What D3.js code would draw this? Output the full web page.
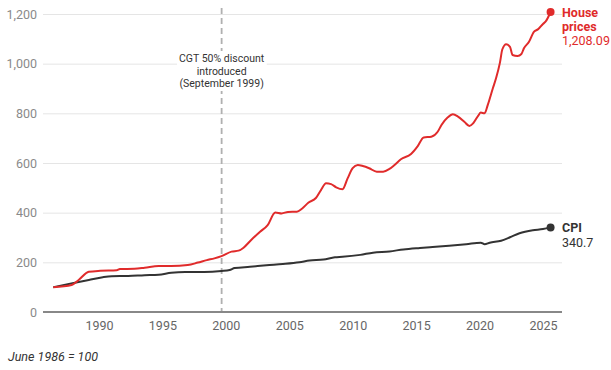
<!DOCTYPE html>
<html>
<head>
<meta charset="utf-8">
<script src="https://cdn.jsdelivr.net/npm/d3@7"></script>
<style>
  body { margin: 0; background: #fff; font-family: Roboto, "Noto Sans", sans-serif; }
  svg text { font-family: Roboto, "Noto Sans", sans-serif; }
</style>
</head>
<body>
<svg id="chart" width="611" height="370"></svg>
<script>
// index, June 1986 = 100 (decimal years)
var houseYears = [1986.4, 1987.85, 1988.4, 1989.2, 1990.1, 1991.4, 1991.65, 1992.8, 1993.6, 1994.7, 1995.7,
	1997.0, 1997.8, 1998.5, 1999.1, 1999.66, 2000.45, 2001.0, 2001.4, 2002.0, 2002.7, 2003.3, 2003.9,
	2004.4, 2004.9, 2005.6, 2006.0, 2006.5, 2007.1, 2007.5, 2007.9, 2008.3, 2008.7, 2009.2, 2009.6,
	2010.0, 2010.4, 2010.8, 2011.3, 2011.9, 2012.4, 2012.9, 2013.3, 2013.8, 2014.6, 2015.1, 2015.6,
	2016.2, 2016.7, 2017.0, 2017.5, 2017.9, 2018.3, 2018.8, 2019.2, 2019.5, 2019.9, 2020.1, 2020.4,
	2020.65, 2021.05, 2021.3, 2021.6, 2021.8, 2022.1, 2022.4, 2022.6, 2023.0, 2023.3, 2023.5, 2023.9,
	2024.3, 2024.6, 2025.0, 2025.2, 2025.6];
var housePrices = [100, 109, 129, 162, 166, 168, 173, 174, 178, 185, 185,
	189, 199, 209, 216, 225, 243, 247, 259, 290, 323, 350, 401,
	397, 403, 404, 416, 440, 459, 491, 518, 515, 502, 494, 538,
	579, 592, 588, 579, 565, 565, 576, 592, 615, 636, 666, 703,
	706, 726, 753, 784, 796, 787, 766, 749, 760, 791, 803, 800,
	834, 901, 941, 1002, 1058, 1078, 1068, 1035, 1031, 1039, 1062, 1088,
	1129, 1138, 1160, 1169, 1208.09];

var cpiYears = [1986.4, 1988.1, 1989.2, 1990.3, 1991.0, 1992.3, 1993.6, 1994.7, 1995.7, 1996.8, 1998.3,
	1999.66, 2000.3, 2000.7, 2001.9, 2003.2, 2004.5, 2005.8, 2006.6, 2007.7, 2008.6, 2009.2, 2010.6,
	2011.6, 2012.9, 2014.0, 2015.3, 2016.3, 2017.6, 2018.95, 2020.1, 2020.4, 2020.8, 2021.7, 2022.4,
	2023.15, 2024.2, 2025.0, 2025.6];
var cpiValues = [100, 118, 129, 140, 144, 145, 148, 150, 158, 161, 161,
	165, 169, 177, 182, 188, 193, 200, 207, 211, 220, 222, 230,
	239, 244, 252, 258, 262, 267, 273, 279, 273, 279, 287, 301,
	317, 329, 334, 340.7];

var yTicks = [0, 200, 400, 600, 800, 1000, 1200];
var xTicks = [1990, 1995, 2000, 2005, 2010, 2015, 2020, 2025];
var cgtYear = 1999.67;
var cgtLabel = ["CGT 50% discount", "introduced", "(September 1999)"];

var red = "#e02b2b";
var dark = "#333333";

var svg = d3.select("#chart");

var x = d3.scaleLinear().domain([1985.59, 2026.5]).range([43, 562]);
var y = d3.scaleLinear().domain([0, 1200]).range([312, 14]);

// gridlines + y labels
var yAxis = d3.axisLeft(y)
	.tickValues(yTicks)
	.tickSize(-(562 - 43))
	.tickPadding(6)
	.tickFormat(d3.format(","));
var gy = svg.append("g")
	.attr("transform", "translate(43,0)")
	.call(yAxis);
gy.select(".domain").remove();
gy.selectAll(".tick line").attr("stroke", "#e5e5e5").attr("stroke-width", 1);
gy.selectAll(".tick text")
	.attr("fill", "#8a8a8a")
	.attr("font-size", 12.5)
	.attr("x", -6);

// x axis
var xAxis = d3.axisBottom(x)
	.tickValues(xTicks)
	.tickSize(0)
	.tickPadding(9)
	.tickFormat(d3.format("d"));
var gx = svg.append("g")
	.attr("transform", "translate(0,312)")
	.call(xAxis);
gx.select(".domain").remove();
gx.selectAll(".tick text")
	.attr("fill", "#666")
	.attr("font-size", 12.5);

svg.append("line")
	.attr("x1", 43).attr("x2", 562)
	.attr("y1", 312).attr("y2", 312)
	.attr("stroke", "#888")
	.attr("stroke-width", 2);

// CGT marker
svg.append("line")
	.attr("x1", x(cgtYear)).attr("x2", x(cgtYear))
	.attr("y1", 8).attr("y2", 311)
	.attr("stroke", "#b0b0b0")
	.attr("stroke-width", 1.8)
	.attr("stroke-dasharray", "6,4");

var ann = svg.append("g");
var annText = ann.append("text")
	.attr("text-anchor", "middle")
	.attr("font-size", 10.5)
	.attr("fill", "#333");
cgtLabel.forEach(function(t, i) {
	annText.append("tspan")
		.attr("x", x(cgtYear))
		.attr("y", 62 + i * 12.5)
		.text(t);
});
var bb = annText.node().getBBox();
ann.insert("rect", "text")
	.attr("x", bb.x - 2).attr("y", bb.y - 1)
	.attr("width", bb.width + 4).attr("height", bb.height + 2)
	.attr("fill", "#fff");

// lines
var line = d3.line()
	.x(function(d) { return x(d[0]); })
	.y(function(d) { return y(d[1]); })
	.curve(d3.curveMonotoneX);

var cpiData = d3.zip(cpiYears, cpiValues);
var houseData = d3.zip(houseYears, housePrices);

svg.append("path")
	.datum(cpiData)
	.attr("d", line)
	.attr("fill", "none")
	.attr("stroke", dark)
	.attr("stroke-width", 2);

svg.append("path")
	.datum(houseData)
	.attr("d", line)
	.attr("fill", "none")
	.attr("stroke", red)
	.attr("stroke-width", 2);

var lastCpi = cpiData[cpiData.length - 1];
var lastHouse = houseData[houseData.length - 1];

svg.append("circle")
	.attr("cx", x(lastCpi[0])).attr("cy", y(lastCpi[1]))
	.attr("r", 4).attr("fill", dark);
svg.append("circle")
	.attr("cx", x(lastHouse[0])).attr("cy", y(lastHouse[1]))
	.attr("r", 4).attr("fill", red);

// end labels
var hl = svg.append("text")
	.attr("font-size", 12.5)
	.attr("fill", red);
hl.append("tspan").attr("x", 562).attr("y", 17).attr("font-weight", "bold").text("House");
hl.append("tspan").attr("x", 562).attr("y", 31).attr("font-weight", "bold").text("prices");
hl.append("tspan").attr("x", 562).attr("y", 45).text(d3.format(",.2f")(lastHouse[1]));

var cl = svg.append("text")
	.attr("font-size", 12.5)
	.attr("fill", dark);
cl.append("tspan").attr("x", 562).attr("y", 232).attr("font-weight", "bold").text("CPI");
cl.append("tspan").attr("x", 562).attr("y", 247).text(lastCpi[1]);

// note
svg.append("text")
	.attr("x", 8).attr("y", 361)
	.attr("font-size", 12.5)
	.attr("font-style", "italic")
	.attr("fill", "#333")
	.text("June 1986 = 100");
</script>
</body>
</html>
